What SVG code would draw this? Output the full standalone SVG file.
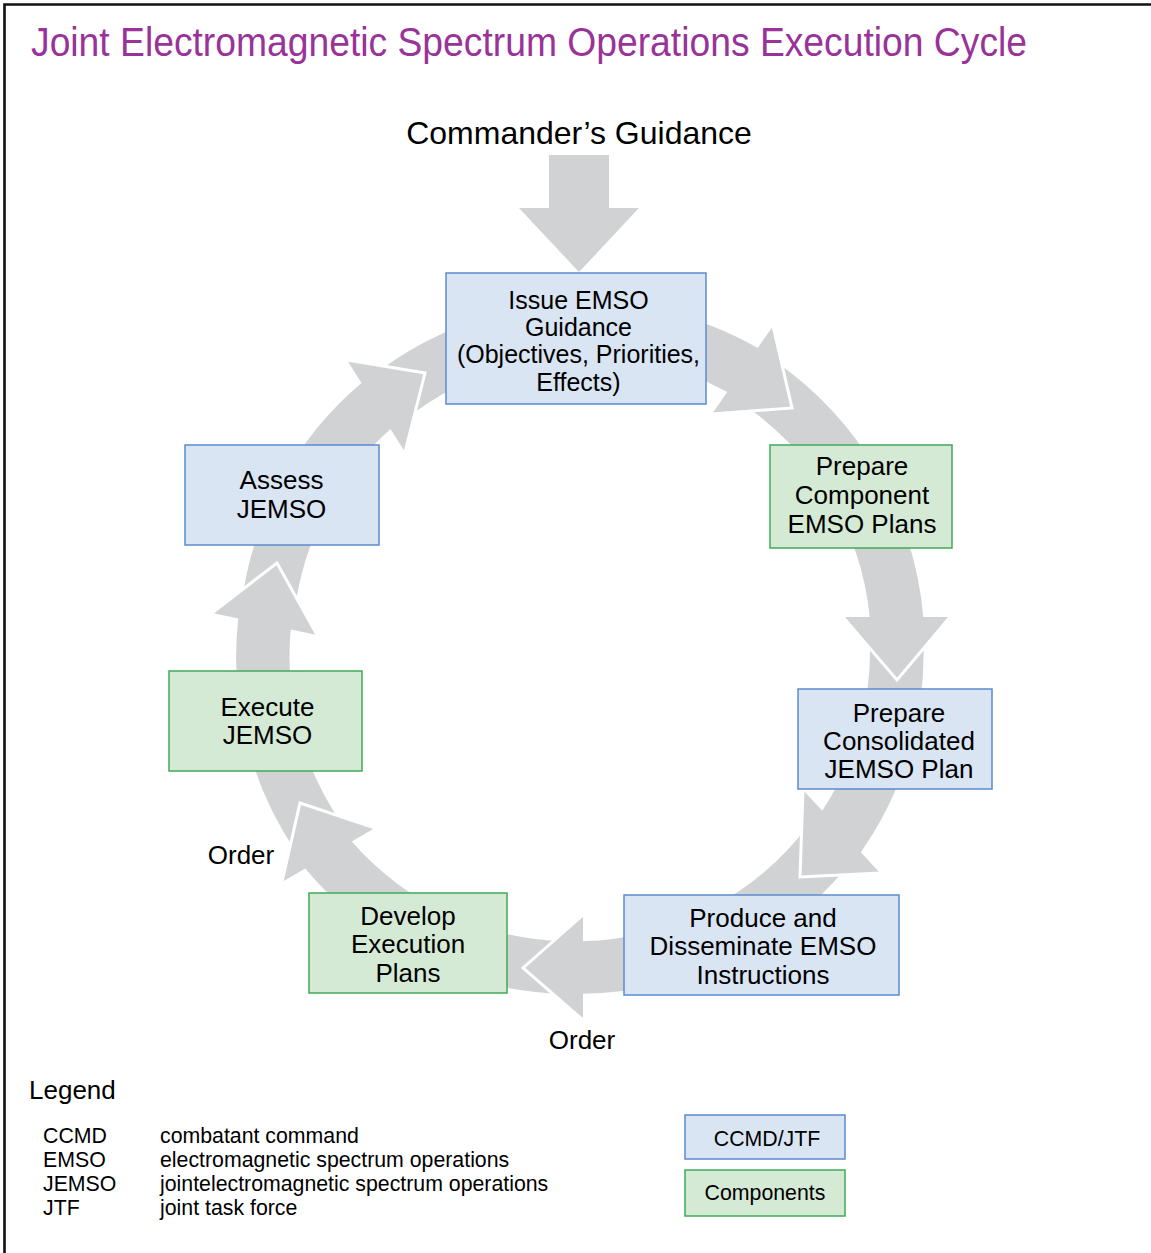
<svg xmlns="http://www.w3.org/2000/svg" width="1151" height="1253" viewBox="0 0 1151 1253">
<style>
text{font-family:"Liberation Sans",Arial,sans-serif;fill:#000}
.bx{font-size:26px;text-anchor:middle}
.blue{fill:#DAE5F3;stroke:#5B8AD0;stroke-width:1.5}
.green{fill:#D5EAD4;stroke:#3FAA58;stroke-width:1.5}
.arr{fill:#D1D2D4;stroke:none}
.wl{fill:none;stroke:#fff;stroke-width:3;stroke-linejoin:miter}
.lg{font-size:21.3px}
</style>
<rect width="1151" height="1253" fill="#fff"/>
<path d="M4.5,1253 V4.5 H1151" fill="none" stroke="#111" stroke-width="2.6"/>
<text x="31" y="56" font-size="40" textLength="996" lengthAdjust="spacingAndGlyphs" style="fill:#993399">Joint Electromagnetic Spectrum Operations Execution Cycle</text>
<text x="579" y="144" font-size="32" text-anchor="middle">Commander’s Guidance</text>

<g id="connectors">
<polygon class="arr" points="549,155 609,155 609,208 639,208 579,272 519,208 549,208"/>
<path class="arr" d="M407.1,417.8 L378.1,371.8 A346,346 0 0 1 757.75,348 L773,326 L792,408 L712,414 L727.25,392 A292,292 0 0 0 407.1,417.8 Z"/>
<path class="arr" d="M743.1,404.2 L773.6,360.2 A346,346 0 0 1 923.25,617 L950,617 L897,680 L843,617 L869.75,617 A292,292 0 0 0 743.1,404.2 Z"/>
<path class="arr" d="M869.75,637 L923.25,637 A346,346 0 0 1 860.75,852.25 L880,873 L800,877 L803,790 L822.25,810.75 A292,292 0 0 0 869.75,637 Z"/>
<path class="arr" d="M808.45,825.25 L846.95,866.75 A346,346 0 0 1 583,993.75 L583,1020 L523,968 L583,915 L583,941.25 A292,292 0 0 0 808.45,825.25 Z"/>
<path class="arr" d="M563,941.25 L563,993.75 A346,346 0 0 1 305.25,868.5 L282,882 L300,803 L375,828 L351.75,841.5 A292,292 0 0 0 563,941.25 Z"/>
<path class="arr" d="M342.1,824 L295.6,851 A346,346 0 0 1 238.25,618.5 L212,613 L277,563 L317,635 L290.75,629.5 A292,292 0 0 0 342.1,824 Z"/>
<path class="arr" d="M294.75,609.9 L242.25,598.9 A346,346 0 0 1 361.5,383 L347,360 L425,373 L405,452 L390.5,429 A292,292 0 0 0 294.75,609.9 Z"/>
<polyline class="wl" points="773,326 792,408 712,414"/>
<polyline class="wl" points="950,617 897,680 843,617"/>
<polyline class="wl" points="880,873 800,877 803,790"/>
<polyline class="wl" points="583,1020 523,968 583,915"/>
<polyline class="wl" points="282,882 300,803 375,828"/>
<polyline class="wl" points="212,613 277,563 317,635"/>
<polyline class="wl" points="347,360 425,373 405,452"/>
<text x="241" y="863.5" font-size="26" text-anchor="middle">Order</text>
<text x="582" y="1049" font-size="26" text-anchor="middle">Order</text>
</g>

<g id="issue">
<rect class="blue" x="446" y="273" width="260" height="131"/>
<text class="bx" style="font-size:25px"><tspan x="578.5" y="309">Issue EMSO</tspan><tspan x="578.5" y="336">Guidance</tspan><tspan x="578.5" y="363.3">(Objectives, Priorities,</tspan><tspan x="578.5" y="390.7">Effects)</tspan></text>
</g>
<g id="prepare-component">
<rect class="green" x="770" y="445" width="182" height="103"/>
<text class="bx"><tspan x="862" y="475">Prepare</tspan><tspan x="862" y="504">Component</tspan><tspan x="862" y="533">EMSO Plans</tspan></text>
</g>
<g id="prepare-consolidated">
<rect class="blue" x="798" y="689" width="194" height="100"/>
<text class="bx"><tspan x="899" y="721.5">Prepare</tspan><tspan x="899" y="749.5">Consolidated</tspan><tspan x="899" y="778">JEMSO Plan</tspan></text>
</g>
<g id="produce">
<rect class="blue" x="624" y="895" width="275" height="100"/>
<text class="bx"><tspan x="763" y="926.7">Produce and</tspan><tspan x="763" y="955">Disseminate EMSO</tspan><tspan x="763" y="984">Instructions</tspan></text>
</g>
<g id="develop">
<rect class="green" x="309" y="893" width="198" height="100"/>
<text class="bx"><tspan x="408" y="925">Develop</tspan><tspan x="408" y="953.3">Execution</tspan><tspan x="408" y="981.7">Plans</tspan></text>
</g>
<g id="execute">
<rect class="green" x="169" y="671" width="193" height="100"/>
<text class="bx"><tspan x="267.5" y="716">Execute</tspan><tspan x="267.5" y="744">JEMSO</tspan></text>
</g>
<g id="assess">
<rect class="blue" x="185" y="445" width="194" height="100"/>
<text class="bx"><tspan x="281.5" y="489.3">Assess</tspan><tspan x="281.5" y="518.3">JEMSO</tspan></text>
</g>

<g id="legend">
<text x="29" y="1099" font-size="26">Legend</text>
<text class="lg" x="43" y="1143">CCMD</text>
<text class="lg" x="43" y="1167">EMSO</text>
<text class="lg" x="43" y="1191">JEMSO</text>
<text class="lg" x="43" y="1215">JTF</text>
<text class="lg" x="160" y="1143">combatant command</text>
<text class="lg" x="160" y="1167">electromagnetic spectrum operations</text>
<text class="lg" x="160" y="1191">jointelectromagnetic spectrum operations</text>
<text class="lg" x="160" y="1215">joint task force</text>
</g>
<g id="legend-ccmd">
<rect class="blue" x="685" y="1115" width="160" height="44"/>
<text class="lg" x="767" y="1145.5" text-anchor="middle">CCMD/JTF</text>
</g>
<g id="legend-components">
<rect class="green" x="685" y="1170" width="160" height="46"/>
<text class="lg" x="765" y="1199.5" text-anchor="middle">Components</text>
</g>
</svg>
